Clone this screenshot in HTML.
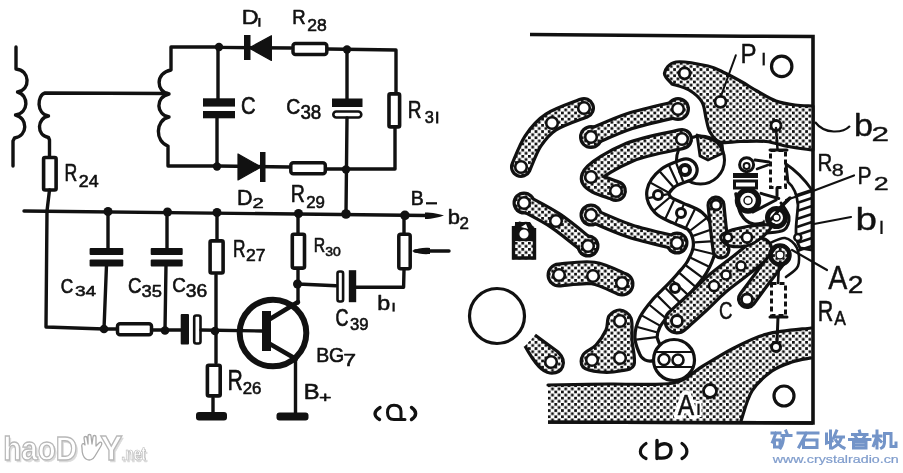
<!DOCTYPE html>
<html><head><meta charset="utf-8">
<style>
html,body{margin:0;padding:0;background:#fff;width:903px;height:473px;overflow:hidden}
svg{display:block;will-change:transform}
text{font-family:"Liberation Sans",sans-serif}
</style></head><body>
<svg width="903" height="473" viewBox="0 0 903 473">
<defs>
<pattern id="dots" width="6.6" height="6.2" patternUnits="userSpaceOnUse">
<rect width="6.6" height="6.2" fill="#fff"/>
<rect x="0" y="0" width="2.75" height="2.75" fill="#111"/>
<rect x="3.3" y="3.1" width="2.75" height="2.75" fill="#111"/>
</pattern>
</defs>
<g id="sch" fill="none" stroke="#111" stroke-width="3.4" stroke-linejoin="round" stroke-linecap="round">
<path d="M16,47 L16,69 C30,70 31,90 17.5,92 C29,95 29,113 15.5,115 C28,118 28,136 14.5,138 L13,141 L13,166"/>
<path d="M168,93.5 L45,93 C37,95 36,114 48.5,116 C37,118 36,135 48.5,137.5 L49.5,140 L49.5,156"/>
<rect x="43.6" y="157.5" width="12.5" height="32.5" rx="1.5" stroke-width="3.6"/>
<path d="M49.5,190 L47,211 L46,327 L104,329"/>
<path d="M219,47 L171,47 L171,70 C155,73 156,92 169,94 C155,97 156,115 169,117 C155,120 155,142 168,146 L168,166 L217,166"/>
<path d="M218,47 L218,101 M217,118 L217,166"/>
<rect x="203" y="98.3" width="32" height="8.3" fill="#111" stroke="none"/>
<rect x="203" y="111" width="32" height="7.3" fill="#111" stroke="none"/>
<path d="M219,47.4 L291,48 M328,49 L396,50 L396,93 M395,128 L395,169 L346,169"/>
<path d="M249,48 L271.4,35.7 L271.4,60.4 Z" fill="#111" stroke-width="1.2"/>
<rect x="244" y="35" width="6.5" height="25" fill="#111" stroke="none"/>
<rect x="293" y="43.6" width="33.8" height="11" rx="2.5" stroke-width="3.5"/>
<rect x="389" y="93.9" width="10.6" height="33" rx="1.5" stroke-width="3.6"/>
<path d="M217,166 L289,167 M327,169 L346,169"/>
<path d="M261,167 L238,154 L238,180 Z" fill="#111" stroke-width="1.2"/>
<rect x="260" y="152" width="5.5" height="30" fill="#111" stroke="none"/>
<rect x="290.8" y="162.8" width="34.5" height="11" rx="2.5" stroke-width="3.5"/>
<path d="M347,49 L347,100 M347,118 L346,213"/>
<rect x="332" y="98.5" width="30.5" height="8.5" fill="#111" stroke="none"/>
<rect x="333.3" y="111.5" width="28" height="6" rx="3" stroke-width="2.6"/>
<path d="M24,211 L426,215.5"/>
<path d="M425,212.5 C432,212.5 440,214 444,215.5 C440,217 432,219 425,219 Z" fill="#111" stroke="none"/>
<path d="M108,211 L108,250 M106.5,265 L104,329 L116,329"/>
<rect x="89.6" y="248" width="33.7" height="7" rx="1" fill="#111" stroke="none"/>
<rect x="89.6" y="259.5" width="33.7" height="7" rx="1" fill="#111" stroke="none"/>
<path d="M167,212 L167,250 M166,265 L165,330"/>
<rect x="150.7" y="248" width="32" height="7" rx="1" fill="#111" stroke="none"/>
<rect x="150.7" y="259.5" width="32" height="7" rx="1" fill="#111" stroke="none"/>
<rect x="117.5" y="323.8" width="34" height="11" rx="2.5" stroke-width="3.5"/>
<path d="M151.5,330 L181,330 M201,330 L262,331"/>
<rect x="180.7" y="314" width="8.3" height="30.4" rx="1" fill="#111" stroke="none"/>
<rect x="194.2" y="315.5" width="6.3" height="28" rx="2" stroke-width="2.6"/>
<path d="M217,212 L217,239 M216,275 L216,363 M213,398 L213,413"/>
<rect x="210.1" y="240.9" width="13" height="32.1" rx="1.5" stroke-width="3.6"/>
<rect x="207.4" y="365.3" width="12.8" height="30.6" rx="1.5" stroke-width="3.6"/>
<rect x="196" y="412" width="31" height="8.5" rx="3" fill="#111" stroke="none"/>
<path d="M298,213 L298,233 M298,269 L298,303 M295.5,360 L295.5,413 M298,284 L336,285.7"/>
<path d="M298,302 L270,319 M270,344 L296,359" stroke-width="4.5"/>
<rect x="292.3" y="234.3" width="12.2" height="33.8" rx="1.5" stroke-width="3.6"/>
<circle cx="273" cy="333" r="33.3" stroke-width="6"/>
<rect x="262" y="311" width="9" height="40" fill="#111" stroke="none"/>
<rect x="276.5" y="412.5" width="32" height="8" rx="3" fill="#111" stroke="none"/>
<rect x="337.5" y="271.5" width="5.6" height="30" rx="2" stroke-width="2.6"/>
<rect x="348.8" y="270.2" width="7.4" height="32" fill="#111" stroke="none"/>
<path d="M356,287.2 L403.6,287.2 L404,270 M404,233 L404,214"/>
<rect x="398.8" y="234.3" width="11.4" height="34.4" rx="2" stroke-width="3.5"/>
<path d="M449,251 L415,251"/>
<path d="M412,251 C418,248 424,247.5 430,248 L430,254 C424,254.5 418,254 412,251 Z" fill="#111" stroke="none"/>
</g>
<g fill="#111">
<circle cx="219" cy="47" r="4.2"/><circle cx="347" cy="49.5" r="4.2"/>
<circle cx="217" cy="166.5" r="4.2"/><circle cx="346" cy="169.5" r="4.2"/>
<circle cx="108" cy="211.5" r="4.5"/><circle cx="167.5" cy="212" r="4.5"/><circle cx="217" cy="212.5" r="4.5"/>
<circle cx="298.5" cy="213.5" r="4.5"/><circle cx="346" cy="214" r="4.8"/><circle cx="404.9" cy="215.3" r="4.8"/>
<circle cx="104" cy="329" r="4.3"/><circle cx="165" cy="330.5" r="4.3"/><circle cx="215" cy="331" r="4.3"/>
<circle cx="297.5" cy="284" r="4.5"/>
</g>
<g id="pcb">
<path d="M530,34.5 C560,35.5 700,36 813,36.5 L813,423 L548,422" fill="none" stroke="#111" stroke-width="3.6"/>
<path d="M548.0,385.0 C558.3,384.8 589.2,384.3 610.0,384.0 C630.8,383.7 657.5,386.0 673.0,383.0 C688.5,380.0 692.8,371.8 703.0,366.0 C713.2,360.2 723.3,353.3 734.0,348.0 C744.7,342.7 754.2,337.3 767.0,334.0 C779.8,330.7 803.7,329.0 811.0,328.0 L811,358 C807.8,358.7 798.5,359.8 792.0,362.0 C785.5,364.2 778.7,366.2 772.0,371.0 C765.3,375.8 757.2,382.7 752.0,391.0 C746.8,399.3 742.8,416.0 741.0,421.0 L548,421 Z" fill="url(#dots)" stroke="none"/>
<path d="M548.0,385.0 C558.3,384.8 589.2,384.3 610.0,384.0 C630.8,383.7 657.5,386.0 673.0,383.0 C688.5,380.0 692.8,371.8 703.0,366.0 C713.2,360.2 723.3,353.3 734.0,348.0 C744.7,342.7 754.2,337.3 767.0,334.0 C779.8,330.7 803.7,329.0 811.0,328.0" fill="none" stroke="#111" stroke-width="3.2" stroke-linecap="round"/>
<path d="M811.0,358.0 C807.8,358.7 798.5,359.8 792.0,362.0 C785.5,364.2 778.7,366.2 772.0,371.0 C765.3,375.8 757.2,382.7 752.0,391.0 C746.8,399.3 742.8,416.0 741.0,421.0" fill="none" stroke="#111" stroke-width="3.2" stroke-linecap="round"/>
<path d="M548,422 L813,423" stroke="#111" stroke-width="3.6"/>
<path d="M672.0,84.0 C670.8,82.2 663.8,76.7 664.5,73.0 C665.2,69.3 668.8,63.2 676.0,62.0 C683.2,60.8 699.8,64.2 708.0,66.0 C716.2,67.8 719.3,70.3 725.0,73.0 C730.7,75.7 736.7,79.0 742.0,82.0 C747.3,85.0 751.3,87.8 757.0,91.0 C762.7,94.2 769.7,98.7 776.0,101.0 C782.3,103.3 789.0,104.2 795.0,105.0 C801.0,105.8 809.2,105.8 812.0,106.0 L813,106 L813,150 L812,150 C808.0,149.4 795.7,147.9 788.0,146.5 C780.3,145.1 774.0,142.3 766.0,141.5 C758.0,140.7 747.7,141.4 740.0,141.5 C732.3,141.6 725.0,143.6 720.0,142.0 C715.0,140.4 712.3,136.0 710.0,132.0 C707.7,128.0 707.3,123.0 706.0,118.0 C704.7,113.0 704.8,106.7 702.0,102.0 C699.2,97.3 694.0,93.0 689.0,90.0 C684.0,87.0 674.8,85.0 672.0,84.0 Z" fill="url(#dots)" stroke="#111" stroke-width="3.2" stroke-linejoin="round"/>
<circle cx="684.6" cy="73.3" r="5.5" fill="#fff" stroke="#111" stroke-width="2.8"/>
<circle cx="720.5" cy="101.8" r="5.5" fill="#fff" stroke="#111" stroke-width="2.8"/>
<circle cx="776" cy="125.5" r="5" fill="#fff" stroke="#111" stroke-width="2.8"/>
<path d="M697,135 L722,143 L723,153 L708,160 L700,156 Z" fill="url(#dots)" stroke="#111" stroke-width="2.8" stroke-linejoin="round"/>
<circle cx="700.5" cy="160" r="24" fill="none" stroke="#111" stroke-width="3"/>
<path d="M735.8,55.3 L721.0,96.0" fill="none" stroke="#111" stroke-width="2" stroke-linecap="round" stroke-linejoin="round"/>
<circle cx="781.7" cy="66.4" r="10.2" fill="none" stroke="#111" stroke-width="3.2"/>
<circle cx="497" cy="316" r="27.5" fill="none" stroke="#111" stroke-width="3.2"/>
<circle cx="784" cy="396" r="10" fill="none" stroke="#111" stroke-width="3.2"/>
<path d="M521.0,167.0 C523.0,162.7 528.0,148.5 533.0,141.0 C538.0,133.5 542.5,127.5 551.0,122.0 C559.5,116.5 578.5,110.3 584.0,108.0" stroke="#111" stroke-width="22" fill="none" stroke-linecap="round" stroke-linejoin="round"/>
<path d="M521.0,167.0 C523.0,162.7 528.0,148.5 533.0,141.0 C538.0,133.5 542.5,127.5 551.0,122.0 C559.5,116.5 578.5,110.3 584.0,108.0" stroke="url(#dots)" stroke-width="15.6" fill="none" stroke-linecap="round" stroke-linejoin="round"/>
<path d="M591.0,137.0 C597.5,134.3 615.5,125.7 630.0,121.0 C644.5,116.3 670.0,111.0 678.0,109.0" stroke="#111" stroke-width="19" fill="none" stroke-linecap="round" stroke-linejoin="round"/>
<circle cx="591" cy="137" r="12.0" fill="#111"/>
<circle cx="678" cy="109" r="12.0" fill="#111"/>
<path d="M591.0,137.0 C597.5,134.3 615.5,125.7 630.0,121.0 C644.5,116.3 670.0,111.0 678.0,109.0" stroke="url(#dots)" stroke-width="12.6" fill="none" stroke-linecap="round" stroke-linejoin="round"/>
<circle cx="591" cy="137" r="8.8" fill="url(#dots)"/>
<circle cx="678" cy="109" r="8.8" fill="url(#dots)"/>
<path d="M682.0,139.0 C673.3,141.2 645.2,145.7 630.0,152.0 C614.8,158.3 593.3,170.5 591.0,177.0 C588.7,183.5 611.8,188.7 616.0,191.0" stroke="#111" stroke-width="22" fill="none" stroke-linecap="round" stroke-linejoin="round"/>
<path d="M682.0,139.0 C673.3,141.2 645.2,145.7 630.0,152.0 C614.8,158.3 593.3,170.5 591.0,177.0 C588.7,183.5 611.8,188.7 616.0,191.0" stroke="url(#dots)" stroke-width="15.6" fill="none" stroke-linecap="round" stroke-linejoin="round"/>
<path d="M524.0,203.0 C529.3,206.0 545.3,213.8 556.0,221.0 C566.7,228.2 582.7,241.8 588.0,246.0" stroke="#111" stroke-width="19" fill="none" stroke-linecap="round" stroke-linejoin="round"/>
<circle cx="524" cy="203" r="11.5" fill="#111"/>
<circle cx="588" cy="246" r="11.5" fill="#111"/>
<path d="M524.0,203.0 C529.3,206.0 545.3,213.8 556.0,221.0 C566.7,228.2 582.7,241.8 588.0,246.0" stroke="url(#dots)" stroke-width="12.6" fill="none" stroke-linecap="round" stroke-linejoin="round"/>
<circle cx="524" cy="203" r="8.3" fill="url(#dots)"/>
<circle cx="588" cy="246" r="8.3" fill="url(#dots)"/>
<path d="M591.0,215.0 C597.5,217.7 615.7,226.3 630.0,231.0 C644.3,235.7 669.2,241.0 677.0,243.0" stroke="#111" stroke-width="16" fill="none" stroke-linecap="round" stroke-linejoin="round"/>
<circle cx="591" cy="215" r="11.5" fill="#111"/>
<circle cx="677" cy="243" r="11.5" fill="#111"/>
<path d="M591.0,215.0 C597.5,217.7 615.7,226.3 630.0,231.0 C644.3,235.7 669.2,241.0 677.0,243.0" stroke="url(#dots)" stroke-width="9.6" fill="none" stroke-linecap="round" stroke-linejoin="round"/>
<circle cx="591" cy="215" r="8.3" fill="url(#dots)"/>
<circle cx="677" cy="243" r="8.3" fill="url(#dots)"/>
<path d="M559.0,275.0 C564.7,274.7 582.5,271.5 593.0,273.0 C603.5,274.5 617.2,282.2 622.0,284.0" stroke="#111" stroke-width="25" fill="none" stroke-linecap="round" stroke-linejoin="round"/>
<path d="M559.0,275.0 C564.7,274.7 582.5,271.5 593.0,273.0 C603.5,274.5 617.2,282.2 622.0,284.0" stroke="url(#dots)" stroke-width="18.6" fill="none" stroke-linecap="round" stroke-linejoin="round"/>
<path d="M620.0,310.0 C623.7,310.3 629.0,313.0 631.0,318.0 C633.0,323.0 631.5,332.2 632.0,340.0 C632.5,347.8 636.0,359.8 634.0,365.0 C632.0,370.2 625.7,369.8 620.0,371.0 C614.3,372.2 606.2,372.7 600.0,372.0 C593.8,371.3 585.8,369.8 583.0,367.0 C580.2,364.2 580.8,358.7 583.0,355.0 C585.2,351.3 592.2,349.2 596.0,345.0 C599.8,340.8 603.8,334.8 606.0,330.0 C608.2,325.2 606.7,319.3 609.0,316.0 C611.3,312.7 616.3,309.7 620.0,310.0 Z" fill="url(#dots)" stroke="#111" stroke-width="3.2" stroke-linejoin="round"/>
<path d="M525,346 L535,335 L558,352 C568,362 563,374 550,373 C543,372 536,366 533,360 Z" fill="url(#dots)" stroke="none"/>
<path d="M535,335 L558,352 C568,362 563,374 550,373 C543,372 536,366 525,346" fill="none" stroke="#111" stroke-width="3.2"/>
<path d="M513,226 L519,221.5 L530,222 L535.7,228 L535.7,259.4 L513,259.4 Z" fill="url(#dots)" stroke="none"/>
<path d="M515,222 L530,222 L534,228 L534,241 L515,241 Z" fill="#111"/>
<path d="M513.5,226 L513.5,258 L534.5,258 L534.5,228" fill="none" stroke="#111" stroke-width="3.4"/>
<path d="M521,227 L526,224 L528,229 Z" fill="#fff"/>
<circle cx="521" cy="167" r="5.8" fill="#fff" stroke="#111" stroke-width="2.6"/>
<circle cx="552" cy="123" r="5.8" fill="#fff" stroke="#111" stroke-width="2.6"/>
<circle cx="584" cy="108" r="5.8" fill="#fff" stroke="#111" stroke-width="2.6"/>
<circle cx="591" cy="137" r="5.8" fill="#fff" stroke="#111" stroke-width="2.6"/>
<circle cx="678" cy="109" r="5.8" fill="#fff" stroke="#111" stroke-width="2.6"/>
<circle cx="682" cy="139" r="5.8" fill="#fff" stroke="#111" stroke-width="2.6"/>
<circle cx="591" cy="177" r="5.8" fill="#fff" stroke="#111" stroke-width="2.6"/>
<circle cx="616" cy="191" r="5.8" fill="#fff" stroke="#111" stroke-width="2.6"/>
<circle cx="524" cy="203" r="5.8" fill="#fff" stroke="#111" stroke-width="2.6"/>
<circle cx="556" cy="221" r="5.8" fill="#fff" stroke="#111" stroke-width="2.6"/>
<circle cx="588" cy="246" r="5.8" fill="#fff" stroke="#111" stroke-width="2.6"/>
<circle cx="591" cy="215" r="5.8" fill="#fff" stroke="#111" stroke-width="2.6"/>
<circle cx="677" cy="243" r="5.8" fill="#fff" stroke="#111" stroke-width="2.6"/>
<circle cx="559" cy="275" r="5.8" fill="#fff" stroke="#111" stroke-width="2.6"/>
<circle cx="593" cy="276" r="5.8" fill="#fff" stroke="#111" stroke-width="2.6"/>
<circle cx="622" cy="283" r="5.8" fill="#fff" stroke="#111" stroke-width="2.6"/>
<circle cx="620" cy="321" r="5.8" fill="#fff" stroke="#111" stroke-width="2.6"/>
<circle cx="592" cy="360" r="5.8" fill="#fff" stroke="#111" stroke-width="2.6"/>
<circle cx="620" cy="358" r="5.8" fill="#fff" stroke="#111" stroke-width="2.6"/>
<circle cx="551" cy="362" r="5.8" fill="#fff" stroke="#111" stroke-width="2.6"/>
<circle cx="524" cy="234" r="5.2" fill="#fff" stroke="#111" stroke-width="1.2"/>
<path d="M686.0,170.0 C683.0,171.3 672.7,174.3 668.0,178.0 C663.3,181.7 658.8,187.5 658.0,192.0 C657.2,196.5 659.7,201.5 663.0,205.0 C666.3,208.5 672.7,210.3 678.0,213.0 C683.3,215.7 690.8,217.5 695.0,221.0 C699.2,224.5 701.5,229.2 703.0,234.0 C704.5,238.8 705.0,244.5 704.0,250.0 C703.0,255.5 700.0,261.8 697.0,267.0 C694.0,272.2 689.8,276.5 686.0,281.0 C682.2,285.5 678.2,289.7 674.0,294.0 C669.8,298.3 665.0,302.3 661.0,307.0 C657.0,311.7 652.5,317.0 650.0,322.0 C647.5,327.0 646.0,332.3 646.0,337.0 C646.0,341.7 649.3,347.8 650.0,350.0" stroke="#111" stroke-width="25.5" fill="none" stroke-linecap="round"/>
<path d="M686.0,170.0 C683.0,171.3 672.7,174.3 668.0,178.0 C663.3,181.7 658.8,187.5 658.0,192.0 C657.2,196.5 659.7,201.5 663.0,205.0 C666.3,208.5 672.7,210.3 678.0,213.0 C683.3,215.7 690.8,217.5 695.0,221.0 C699.2,224.5 701.5,229.2 703.0,234.0 C704.5,238.8 705.0,244.5 704.0,250.0 C703.0,255.5 700.0,261.8 697.0,267.0 C694.0,272.2 689.8,276.5 686.0,281.0 C682.2,285.5 678.2,289.7 674.0,294.0 C669.8,298.3 665.0,302.3 661.0,307.0 C657.0,311.7 652.5,317.0 650.0,322.0 C647.5,327.0 646.0,332.3 646.0,337.0 C646.0,341.7 649.3,347.8 650.0,350.0" stroke="#fff" stroke-width="19" fill="none" stroke-linecap="round"/>
<path d="M683.2,181.7 L676.2,163.0 M677.6,184.0 L669.2,165.8 M673.2,186.7 L660.0,171.7 M668.4,192.5 L650.9,182.9 M667.9,194.1 L648.3,198.1 M669.7,197.5 L654.3,210.3 M674.0,200.2 L665.5,218.4 M683.7,204.6 L675.6,222.9 M694.9,209.2 L686.1,227.2 M706.2,218.3 L690.4,230.5 M712.0,229.2 L693.1,235.9 M714.4,241.1 L694.5,242.4 M713.4,254.0 L693.9,249.3 M708.6,266.5 L690.7,257.7 M702.0,277.4 L686.0,265.5 M694.7,286.2 L679.6,273.1 M687.4,294.4 L672.8,280.7 M679.8,302.4 L665.7,288.2 M671.9,310.0 L657.7,295.9 M665.1,317.7 L649.6,305.0 M659.5,325.4 L642.1,315.6 M656.7,332.2 L637.4,327.0 M656.0,337.2 L636.2,339.6" stroke="#111" stroke-width="2.2"/>
<circle cx="685" cy="170" r="5" fill="#fff" stroke="#111" stroke-width="4"/>
<circle cx="658" cy="195" r="4.5" fill="#fff" stroke="#111" stroke-width="3"/>
<circle cx="681" cy="213" r="4.5" fill="#fff" stroke="#111" stroke-width="3"/>
<circle cx="675" cy="288" r="4.5" fill="#fff" stroke="#111" stroke-width="3"/>
<circle cx="674" cy="360" r="20.5" fill="#fff" stroke="#111" stroke-width="3.2"/>
<path d="M656,352 L692,352 M655,367 L693,367" stroke="#111" stroke-width="2.2"/>
<circle cx="664" cy="359.5" r="5.5" fill="#fff" stroke="#111" stroke-width="2.6"/>
<circle cx="678" cy="360" r="5.5" fill="#fff" stroke="#111" stroke-width="2.6"/>
<path d="M736.0,194.0 C736.8,197.3 738.2,209.0 741.0,214.0 C743.8,219.0 748.2,223.0 753.0,224.0 C757.8,225.0 765.3,222.8 770.0,220.0 C774.7,217.2 777.7,210.7 781.0,207.0 C784.3,203.3 788.5,199.5 790.0,198.0" fill="none" stroke="#111" stroke-width="3.5" stroke-linecap="round"/>
<path d="M762,219 C766,226 775,230 782,229 C778,224 770,220 762,219 Z" fill="url(#dots)" stroke="none"/>
<path d="M781.0,203.0 C782.3,205.3 788.5,212.5 789.0,217.0 C789.5,221.5 787.8,227.3 784.0,230.0 C780.2,232.7 769.0,232.5 766.0,233.0" fill="none" stroke="#111" stroke-width="3" stroke-linecap="round"/>
<path d="M761.0,193.4 L778.7,198.5" fill="none" stroke="#111" stroke-width="3" stroke-linecap="round" stroke-linejoin="round"/>
<path d="M753.0,212.0 L776.0,200.0" fill="none" stroke="#111" stroke-width="3" stroke-linecap="round" stroke-linejoin="round"/>
<path d="M716.0,205.0 C716.3,208.3 717.2,217.5 718.0,225.0 C718.8,232.5 720.5,245.8 721.0,250.0" stroke="#111" stroke-width="19" fill="none" stroke-linecap="round" stroke-linejoin="round"/>
<path d="M716.0,205.0 C716.3,208.3 717.2,217.5 718.0,225.0 C718.8,232.5 720.5,245.8 721.0,250.0" stroke="url(#dots)" stroke-width="12.6" fill="none" stroke-linecap="round" stroke-linejoin="round"/>
<path d="M677.0,321.0 C680.5,317.8 691.2,308.3 698.0,302.0 C704.8,295.7 711.0,289.0 718.0,283.0 C725.0,277.0 733.0,271.5 740.0,266.0 C747.0,260.5 756.7,252.7 760.0,250.0" stroke="#111" stroke-width="27" fill="none" stroke-linecap="round" stroke-linejoin="round"/>
<path d="M677.0,321.0 C680.5,317.8 691.2,308.3 698.0,302.0 C704.8,295.7 711.0,289.0 718.0,283.0 C725.0,277.0 733.0,271.5 740.0,266.0 C747.0,260.5 756.7,252.7 760.0,250.0" stroke="url(#dots)" stroke-width="20.6" fill="none" stroke-linecap="round" stroke-linejoin="round"/>
<path d="M747.0,299.0 C749.8,295.2 758.3,283.5 764.0,276.0 C769.7,268.5 778.2,257.7 781.0,254.0" stroke="#111" stroke-width="20" fill="none" stroke-linecap="round" stroke-linejoin="round"/>
<path d="M747.0,299.0 C749.8,295.2 758.3,283.5 764.0,276.0 C769.7,268.5 778.2,257.7 781.0,254.0" stroke="url(#dots)" stroke-width="13.6" fill="none" stroke-linecap="round" stroke-linejoin="round"/>
<path d="M721.0,236.0 C722.7,233.0 731.7,229.7 740.0,228.0 C748.3,226.3 769.0,223.3 771.0,226.0 C773.0,228.7 758.8,240.7 752.0,244.0 C745.2,247.3 735.2,247.3 730.0,246.0 C724.8,244.7 719.3,239.0 721.0,236.0 Z" fill="url(#dots)" stroke="#111" stroke-width="3" stroke-linejoin="round"/>
<circle cx="728" cy="237.5" r="4" fill="#fff" stroke="#111" stroke-width="2.6"/>
<circle cx="747" cy="237.5" r="5" fill="#fff" stroke="#111" stroke-width="2.6"/>
<circle cx="677" cy="321" r="5.5" fill="#fff" stroke="#111" stroke-width="2.8"/>
<circle cx="716" cy="205" r="5" fill="#fff" stroke="#111" stroke-width="2.8"/>
<circle cx="714" cy="286" r="5" fill="#fff" stroke="#111" stroke-width="2.6"/>
<circle cx="726" cy="275" r="4.5" fill="#fff" stroke="#111" stroke-width="2.6"/>
<circle cx="741" cy="266" r="4.5" fill="#fff" stroke="#111" stroke-width="2.6"/>
<circle cx="747" cy="299.5" r="5.5" fill="#fff" stroke="#111" stroke-width="2.8"/>
<circle cx="748" cy="200.5" r="10.5" fill="none" stroke="#111" stroke-width="5.5"/>
<circle cx="748" cy="200.5" r="4" fill="#fff" stroke="#111" stroke-width="1.5"/>
<circle cx="776.5" cy="217.5" r="9" fill="none" stroke="#111" stroke-width="5"/>
<circle cx="776.5" cy="217.5" r="3.5" fill="#fff" stroke="#111" stroke-width="1.5"/>
<circle cx="780" cy="255" r="9.5" fill="none" stroke="#111" stroke-width="4.5"/>
<circle cx="780" cy="255" r="4" fill="#fff" stroke="#111" stroke-width="1.5"/>
<path d="M770.0,243.0 C772.5,242.2 780.5,237.2 785.0,238.0 C789.5,238.8 794.8,243.3 797.0,248.0 C799.2,252.7 799.8,261.2 798.0,266.0 C796.2,270.8 788.0,275.2 786.0,277.0" fill="none" stroke="#111" stroke-width="2.6" stroke-linecap="round"/>
<rect x="733" y="173" width="25" height="5" fill="#111"/>
<rect x="734.5" y="181" width="22" height="7" fill="none" stroke="#111" stroke-width="3"/>
<circle cx="746.6" cy="164.7" r="7" fill="none" stroke="#111" stroke-width="3"/>
<circle cx="746.6" cy="166" r="3" fill="#fff" stroke="#111" stroke-width="2"/>
<path d="M755.0,160.0 L769.0,162.0" fill="none" stroke="#111" stroke-width="3" stroke-linecap="round" stroke-linejoin="round"/>
<path d="M757.0,169.0 L768.0,165.0" fill="none" stroke="#111" stroke-width="2.5" stroke-linecap="round" stroke-linejoin="round"/>
<path d="M746,188 L746,192" stroke="#111" stroke-width="3"/>
<rect x="770.5" y="150.5" width="15" height="37" fill="none" stroke="#111" stroke-width="3" stroke-dasharray="5,3"/>
<path d="M776.0,128.0 L777.5,149.0" fill="none" stroke="#111" stroke-width="2.5" stroke-linecap="round" stroke-linejoin="round"/>
<path d="M770.0,150.0 L787.0,150.0" fill="none" stroke="#111" stroke-width="3" stroke-linecap="round" stroke-linejoin="round"/>
<path d="M777.0,188.0 L777.0,196.0" fill="none" stroke="#111" stroke-width="3" stroke-linecap="round" stroke-linejoin="round"/>
<rect x="771.5" y="283.5" width="14" height="32" fill="none" stroke="#111" stroke-width="3" stroke-dasharray="5,3"/>
<path d="M770.0,317.0 L787.0,317.0" fill="none" stroke="#111" stroke-width="3" stroke-linecap="round" stroke-linejoin="round"/>
<path d="M778.0,317.0 L777.0,342.0" fill="none" stroke="#111" stroke-width="3" stroke-linecap="round" stroke-linejoin="round"/>
<path d="M779.0,265.0 L778.0,283.0" fill="none" stroke="#111" stroke-width="2.6" stroke-linecap="round" stroke-linejoin="round"/>
<circle cx="776" cy="347" r="4.5" fill="#fff" stroke="#111" stroke-width="3"/>
<circle cx="710" cy="391" r="6.5" fill="#fff" stroke="#111" stroke-width="2.8"/>
<path d="M786,164 C795,170 805,180 812,190 L812,250 L800,248 C793,236 797,222 798,205 C797,195 793,186 788,182 Z" fill="#fff" stroke="#111" stroke-width="2.8"/>
<path d="M797,195 L812,190 M797,203 L812,198 M797,211 L812,206 M797,219 L812,214 M797,227 L812,222 M797,235 L812,230 M797,243 L812,238 M797,251 L812,246" stroke="#111" stroke-width="2.6"/>
<circle cx="797.8" cy="237.5" r="3.5" fill="#fff" stroke="#111" stroke-width="2.5"/>
<path d="M815,122 C825,135 843,133 850,126" fill="none" stroke="#111" stroke-width="2.2"/>
<path d="M786.0,200.0 L813.0,191.0 L854.0,175.5" fill="none" stroke="#111" stroke-width="2.2" stroke-linecap="round" stroke-linejoin="round"/>
<path d="M814.0,224.0 L851.0,217.0" fill="none" stroke="#111" stroke-width="2.2" stroke-linecap="round" stroke-linejoin="round"/>
<path d="M792.0,250.0 L827.0,270.0" fill="none" stroke="#111" stroke-width="2.2" stroke-linecap="round" stroke-linejoin="round"/>
</g>
<g>
<text font-size="100" transform="matrix(0.2336,0,0,0.2087,241.63,23.70)" fill="#111" stroke="#111" stroke-width="2.71" stroke-linejoin="round">D</text>
<text font-size="100" transform="matrix(0.1849,0,0,0.2101,292.22,24.40)" fill="#111" stroke="#111" stroke-width="3.04" stroke-linejoin="round">R</text>
<text font-size="100" transform="matrix(0.1755,0,0,0.1662,307.22,31.13)" fill="#111" stroke="#111" stroke-width="3.51" stroke-linejoin="round">28</text>
<text font-size="100" transform="matrix(0.2016,0,0,0.2408,240.89,114.36)" fill="#111" stroke="#111" stroke-width="2.71" stroke-linejoin="round">C</text>
<text font-size="100" transform="matrix(0.1937,0,0,0.2183,286.33,113.88)" fill="#111" stroke="#111" stroke-width="2.91" stroke-linejoin="round">C</text>
<text font-size="100" transform="matrix(0.1874,0,0,0.1930,300.45,118.81)" fill="#111" stroke="#111" stroke-width="3.16" stroke-linejoin="round">38</text>
<text font-size="100" transform="matrix(0.1899,0,0,0.2391,407.78,118.00)" fill="#111" stroke="#111" stroke-width="2.80" stroke-linejoin="round">R</text>
<text font-size="100" transform="matrix(0.1638,0,0,0.1592,424.84,123.04)" fill="#111" stroke="#111" stroke-width="3.72" stroke-linejoin="round">3</text>
<text font-size="100" transform="matrix(0.1765,0,0,0.2362,64.59,181.40)" fill="#111" stroke="#111" stroke-width="2.91" stroke-linejoin="round">R</text>
<text font-size="100" transform="matrix(0.1786,0,0,0.1643,78.81,187.20)" fill="#111" stroke="#111" stroke-width="3.50" stroke-linejoin="round">24</text>
<text font-size="100" transform="matrix(0.2151,0,0,0.2217,237.08,205.30)" fill="#111" stroke="#111" stroke-width="2.75" stroke-linejoin="round">D</text>
<text font-size="100" transform="matrix(0.2022,0,0,0.1386,252.39,208.30)" fill="#111" stroke="#111" stroke-width="3.52" stroke-linejoin="round">2</text>
<text font-size="100" transform="matrix(0.1950,0,0,0.2377,290.84,202.20)" fill="#111" stroke="#111" stroke-width="2.77" stroke-linejoin="round">R</text>
<text font-size="100" transform="matrix(0.1685,0,0,0.1718,306.16,208.13)" fill="#111" stroke="#111" stroke-width="3.53" stroke-linejoin="round">29</text>
<text font-size="100" transform="matrix(0.1944,0,0,0.2101,410.64,205.30)" fill="#111" stroke="#111" stroke-width="2.97" stroke-linejoin="round">B</text>
<text font-size="100" transform="matrix(0.2200,0,0,0.2068,447.87,224.29)" fill="#111" stroke="#111" stroke-width="2.81" stroke-linejoin="round">b</text>
<text font-size="100" transform="matrix(0.1692,0,0,0.1571,459.45,229.10)" fill="#111" stroke="#111" stroke-width="3.68" stroke-linejoin="round">2</text>
<text font-size="100" transform="matrix(0.1731,0,0,0.2319,232.92,257.10)" fill="#111" stroke="#111" stroke-width="2.96" stroke-linejoin="round">R</text>
<text font-size="100" transform="matrix(0.1752,0,0,0.1571,245.92,261.20)" fill="#111" stroke="#111" stroke-width="3.61" stroke-linejoin="round">27</text>
<text font-size="100" transform="matrix(0.1580,0,0,0.2072,313.64,252.10)" fill="#111" stroke="#111" stroke-width="3.29" stroke-linejoin="round">R</text>
<text font-size="100" transform="matrix(0.1398,0,0,0.1211,325.14,256.18)" fill="#111" stroke="#111" stroke-width="4.60" stroke-linejoin="round">30</text>
<text font-size="100" transform="matrix(0.1730,0,0,0.2056,60.63,292.69)" fill="#111" stroke="#111" stroke-width="3.17" stroke-linejoin="round">C</text>
<text font-size="100" transform="matrix(0.1904,0,0,0.1535,74.94,296.25)" fill="#111" stroke="#111" stroke-width="3.49" stroke-linejoin="round">34</text>
<text font-size="100" transform="matrix(0.1873,0,0,0.2296,127.96,292.67)" fill="#111" stroke="#111" stroke-width="2.88" stroke-linejoin="round">C</text>
<text font-size="100" transform="matrix(0.1835,0,0,0.1662,141.47,297.13)" fill="#111" stroke="#111" stroke-width="3.43" stroke-linejoin="round">35</text>
<text font-size="100" transform="matrix(0.1873,0,0,0.2042,172.26,291.80)" fill="#111" stroke="#111" stroke-width="3.06" stroke-linejoin="round">C</text>
<text font-size="100" transform="matrix(0.1932,0,0,0.1789,185.73,297.12)" fill="#111" stroke="#111" stroke-width="3.23" stroke-linejoin="round">36</text>
<text font-size="100" transform="matrix(0.2333,0,0,0.2027,377.18,309.60)" fill="#111" stroke="#111" stroke-width="2.75" stroke-linejoin="round">b</text>
<text font-size="100" transform="matrix(0.1794,0,0,0.2310,335.60,325.87)" fill="#111" stroke="#111" stroke-width="2.92" stroke-linejoin="round">C</text>
<text font-size="100" transform="matrix(0.1668,0,0,0.1690,349.93,329.63)" fill="#111" stroke="#111" stroke-width="3.57" stroke-linejoin="round">39</text>
<text font-size="100" transform="matrix(0.1944,0,0,0.2000,316.24,362.40)" fill="#111" stroke="#111" stroke-width="3.04" stroke-linejoin="round">B</text>
<text font-size="100" transform="matrix(0.1954,0,0,0.1944,328.92,362.21)" fill="#111" stroke="#111" stroke-width="3.08" stroke-linejoin="round">G</text>
<text font-size="100" transform="matrix(0.2308,0,0,0.1681,343.15,365.70)" fill="#111" stroke="#111" stroke-width="3.01" stroke-linejoin="round">7</text>
<text font-size="100" transform="matrix(0.2118,0,0,0.2971,227.51,390.10)" fill="#111" stroke="#111" stroke-width="2.36" stroke-linejoin="round">R</text>
<text font-size="100" transform="matrix(0.1685,0,0,0.1634,242.76,394.34)" fill="#111" stroke="#111" stroke-width="3.62" stroke-linejoin="round">26</text>
<text font-size="100" transform="matrix(0.2374,0,0,0.2159,303.70,398.90)" fill="#111" stroke="#111" stroke-width="2.65" stroke-linejoin="round">B</text>
<text font-size="100" transform="matrix(0.2144,0,0,0.1449,318.93,402.40)" fill="#111" stroke="#111" stroke-width="3.34" stroke-linejoin="round">+</text>
<path d="M259.4,17.9 L259.4,26.8" stroke="#111" stroke-width="2.2" fill="none"/>
<path d="M437.2,111.6 L437.2,123.5" stroke="#111" stroke-width="2.2" fill="none"/>
<path d="M393.6,302.7 L393.6,311.6" stroke="#111" stroke-width="2.2" fill="none"/>
<path d="M426,203.3 L437,203.3" stroke="#111" stroke-width="2.2"/>
<g fill="none" stroke="#111" stroke-linecap="round" stroke-linejoin="round"><path d="M380,407.5 C374,411 373,416 379.5,419.5" stroke-width="3.4"/><path d="M401,419.5 L401,411.5 C401,406.5 398,405.3 394,405.3 C389.5,405.3 387.5,408 387.5,412.5 C387.5,417.5 390,419.5 394,419.5 L405,419.5" stroke-width="3"/><path d="M411.5,407.5 C417,411 417,416 411.5,419.5" stroke-width="3.4"/><path d="M646,443.5 C639,448 638,455 646,458.5" stroke-width="3.2"/><path d="M657,440.5 L657,458.5 M658.5,446 C662,442.5 671,442.5 671,450 C671,458 664,458.5 659,458" stroke-width="3.4"/><path d="M682,443.5 C688.5,448 688.5,455 682,458.5" stroke-width="3.2"/></g><text font-size="100" transform="matrix(0.2530,0,0,0.3000,677.47,415.40)" fill="#fff" stroke="#fff" stroke-width="28.93" stroke-linejoin="round">A</text>
<path d="M698.5,401 L698.5,417" stroke="#fff" stroke-width="6"/><text font-size="100" transform="matrix(0.2402,0,0,0.2688,740.50,62.67)" fill="#111" stroke="#111" stroke-width="1.77" stroke-linejoin="round">P</text>
<path d="M763.7,52.7 L763.7,65.4" stroke="#111" stroke-width="2.2" fill="none"/>
<text font-size="100" transform="matrix(0.3411,0,0,0.3109,853.91,136.46)" fill="#111" stroke="#111" stroke-width="1.38" stroke-linejoin="round">b</text>
<text font-size="100" transform="matrix(0.3154,0,0,0.2050,871.45,140.97)" fill="#111" stroke="#111" stroke-width="1.73" stroke-linejoin="round">2</text>
<text font-size="100" transform="matrix(0.2042,0,0,0.2384,817.49,170.58)" fill="#111" stroke="#111" stroke-width="2.03" stroke-linejoin="round">R</text>
<text font-size="100" transform="matrix(0.2160,0,0,0.1725,831.85,175.70)" fill="#111" stroke="#111" stroke-width="2.32" stroke-linejoin="round">8</text>
<text font-size="100" transform="matrix(0.2103,0,0,0.2384,857.54,184.38)" fill="#111" stroke="#111" stroke-width="2.01" stroke-linejoin="round">P</text>
<text font-size="100" transform="matrix(0.2692,0,0,0.1907,873.78,189.68)" fill="#111" stroke="#111" stroke-width="1.96" stroke-linejoin="round">2</text>
<text font-size="100" transform="matrix(0.3856,0,0,0.3150,855.42,230.46)" fill="#111" stroke="#111" stroke-width="1.28" stroke-linejoin="round">b</text>
<path d="M881.5,220.7 L881.5,234" stroke="#111" stroke-width="2.2" fill="none"/>
<text font-size="100" transform="matrix(0.2864,0,0,0.3391,828.16,288.60)" fill="#111" stroke="#111" stroke-width="1.28" stroke-linejoin="round">A</text>
<text font-size="100" transform="matrix(0.2813,0,0,0.2471,847.74,292.95)" fill="#111" stroke="#111" stroke-width="1.89" stroke-linejoin="round">2</text>
<text font-size="100" transform="matrix(0.2151,0,0,0.2928,817.83,321.05)" fill="#111" stroke="#111" stroke-width="1.97" stroke-linejoin="round">R</text>
<text font-size="100" transform="matrix(0.1742,0,0,0.2058,834.16,325.45)" fill="#111" stroke="#111" stroke-width="2.63" stroke-linejoin="round">A</text>
<text font-size="100" transform="matrix(0.1865,0,0,0.2331,718.99,318.54)" fill="#111" stroke="#111" stroke-width="2.14" stroke-linejoin="round">C</text>
<text font-size="100" transform="matrix(0.2462,0,0,0.2935,677.70,415.17)" fill="#111" stroke="#111" stroke-width="1.67" stroke-linejoin="round">A</text>
<path d="M698.5,403.6 L698.5,415" stroke="#111" stroke-width="2.2" fill="none"/>
<g fill="none" stroke="#7394c8" stroke-width="3" stroke-linecap="square" stroke-linejoin="miter">
<!-- 矿 -->
<path d="M772,433 L780,433 M776,433 L772.5,442 M774.5,440 L780,440 L780,447 L774.5,447 Z M786,431 L787,433.5 M782,435.5 L791,435.5 M783.5,435.5 C783.5,442 782.5,445 780.5,448"/>
<!-- 石 -->
<path d="M798,433 L818,433 M806.5,433 L799,447 M803.5,440 L817,440 L817,447.5 L803.5,447.5 Z"/>
<!-- 收 -->
<path d="M826.5,434 L826.5,443 L832,441 M830.5,431 L830.5,448 M836.5,431 L833.5,438 M834.5,437 L843.5,437 M841.5,437.5 C840,442 836.5,446 832.5,448 M836,440.5 C838,444 840.5,446.5 844,448"/>
<!-- 音 -->
<path d="M859.5,431 L860,433 M852.5,434.5 L867,434.5 M855.5,436.5 L856.5,438 M864.5,436.5 L863.5,438 M849.5,439.5 L870,439.5 M853.5,441.5 L866,441.5 L866,448 L853.5,448 Z M853.5,444.8 L866,444.8"/>
<!-- 机 -->
<path d="M873.5,436 L881,436 M877,431 L877,448 M876.5,437.5 L873.5,445.5 M878,438.5 L881,441.5 M884.5,433.5 L884.5,442 C884.5,445 883.5,447 881.5,448 M884.5,433.5 L891,433.5 L891,446.5 L896,446.5 L896,443"/>
</g>
<text font-size="100" transform="matrix(0.1427,0,0,0.1171,772.73,463.42)" fill="#7f9ccc" stroke="#7f9ccc" stroke-width="1.92" stroke-linejoin="round">www.crystalradio.cn</text>
<g opacity="0.35" transform="translate(1.5,2)"><text font-size="100" font-weight="bold" transform="matrix(0.2962,0,0,0.3306,3.23,460.07)" fill="#999" stroke="#999" stroke-width="1.91" stroke-linejoin="round">haoD</text>
<text font-size="100" font-weight="bold" transform="matrix(0.3317,0,0,0.3565,100.14,460.40)" fill="#999" stroke="#999" stroke-width="1.74" stroke-linejoin="round">Y</text>
<text font-size="100" font-weight="bold" transform="matrix(0.1381,0,0,0.1820,121.33,460.22)" fill="#999" stroke="#999" stroke-width="3.75" stroke-linejoin="round">.net</text>
</g><text font-size="100" font-weight="bold" transform="matrix(0.2962,0,0,0.3306,3.23,460.07)" fill="#fff" stroke="#b8b8b8" stroke-width="4">haoD</text>
<path d="M82,448 C81,444 83,442 85,445 L84,438 C84,436 87,436 87,438 L88,444 L88,436 C88,434 91,434 91,436 L92,444 L93,437 C93,435 96,435 96,437 L96,446 L99,443 C101,441 103,443 101,446 L95,456 C93,460 89,461 86,459 C83,457 82,453 82,448 Z" fill="#fff" stroke="#aaa" stroke-width="1.3" stroke-linejoin="round"/><text font-size="100" font-weight="bold" transform="matrix(0.3317,0,0,0.3565,100.14,460.40)" fill="#fff" stroke="#b8b8b8" stroke-width="4">Y</text>
<text font-size="100" font-weight="bold" transform="matrix(0.1381,0,0,0.1820,121.33,460.22)" fill="#fff" stroke="#b8b8b8" stroke-width="4">.net</text>
</g>
</svg>
</body></html>
